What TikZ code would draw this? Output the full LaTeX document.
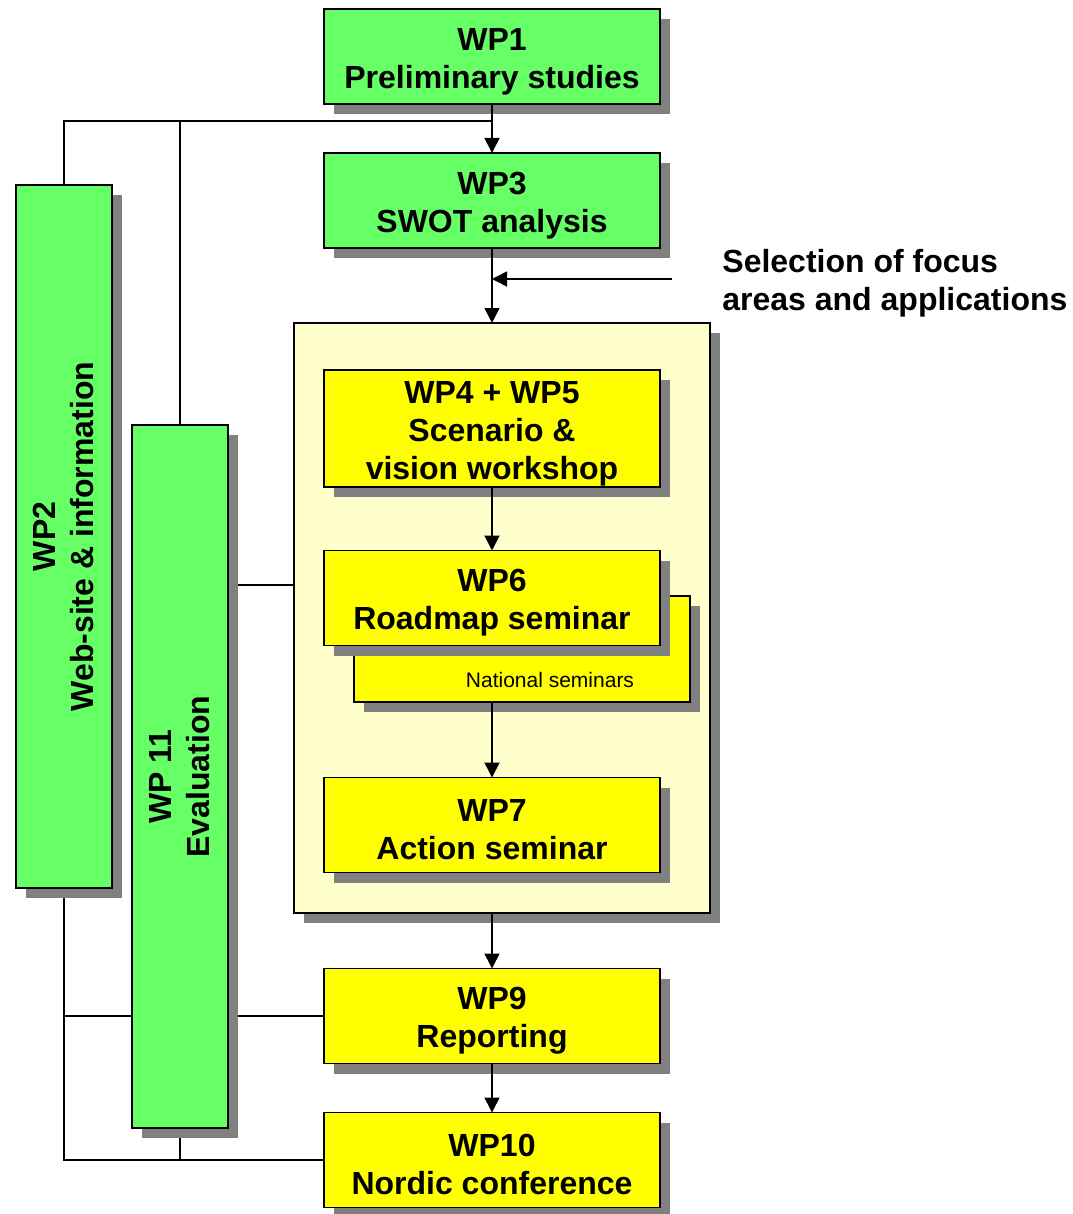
\documentclass[tikz,border=0pt]{standalone}
\usepackage{fontspec}
\setmainfont{Liberation Sans}
\usepackage{xcolor}
\usepackage{tikz}
\usetikzlibrary{arrows.meta,shadows,backgrounds,calc}

\definecolor{wpgreen}{HTML}{66FF66}
\definecolor{wpyellow}{HTML}{FFFF00}
\definecolor{wplight}{HTML}{FFFFCC}
\newcommand{\wptop}{\rule{0pt}{16pt}}

\begin{document}
\begin{tikzpicture}[
    x=0.5pt, y=-0.5pt,
    wp/.style={rectangle, draw, line width=0.8pt, inner sep=0pt, outer sep=0pt, align=center,
        font=\fontsize{16}{19}\selectfont\bfseries,
        drop shadow={shadow xshift=5pt, shadow yshift=-5pt, fill=black!50, opacity=1}},
    task/.style={wp, minimum width=168pt, minimum height=47.5pt},
    column/.style={wp, fill=wpgreen, minimum width=48pt, minimum height=351.5pt},
    arrow/.style={-{Triangle[length=7.5pt,width=7.5pt]}, line width=0.8pt},
    link/.style={line width=0.8pt},
]
    \useasboundingbox (0,0) rectangle (1072,1214);

    % work packages
    \node[task, fill=wpgreen] (wp1) at (492,56.5) {\wptop WP1\\Preliminary studies};
    \node[task, fill=wpgreen] (wp3) at (492,200.5) {\wptop WP3\\SWOT analysis};
    \node[wp, fill=wplight, minimum width=208pt, minimum height=295pt] (box) at (502,618) {};
    \node[task, fill=wpyellow, minimum height=58.5pt] (wp45) at (492,428.5) {\wptop WP4 + WP5\\Scenario \&\\vision workshop};
    \node[wp, fill=wpyellow, minimum width=168pt, minimum height=53pt] (nat) at (522,649) {};
    \node[font=\fontsize{10.5}{12}\selectfont] (natlabel) at (550,680) {National seminars};
    \node[task, fill=wpyellow] (wp6) at (492,598) {\wptop WP6\\Roadmap seminar};
    \node[task, fill=wpyellow] (wp7) at (492,825) {\wptop WP7\\Action seminar};
    \node[task, fill=wpyellow] (wp9) at (492,1016) {\wptop WP9\\Reporting};
    \node[task, fill=wpyellow] (wp10) at (492,1160) {\wptop WP10\\Nordic conference};
    \node[column] (wp2) at (64,536.5) {\rotatebox{90}{\begin{tabular}{@{}c@{}}\rule{0pt}{16.5pt}WP2\\Web-site \& information\end{tabular}}};
    \node[column] (wp11) at (180,776.5) {\rotatebox{90}{\begin{tabular}{@{}c@{}}\rule{0pt}{16.5pt}WP 11\\Evaluation\end{tabular}}};

    \node[anchor=west, align=left, inner sep=0pt, font=\fontsize{16}{19}\selectfont\bfseries] (sel) at (722,283) {Selection of focus\\areas and applications};
    \coordinate (selstart) at (672,279);
    \coordinate (topline) at (491,121);

    % flow
    \draw[arrow] (wp1) -- (wp3);
    \draw[arrow] (wp3) -- (wp3.south |- box.north);
    \draw[arrow] (selstart) -- (selstart -| wp3.south);
    \draw[arrow] (wp45) -- (wp6);
    \draw[arrow] (wp7.north |- nat.south) -- (wp7);
    \draw[arrow] (wp9.north |- box.south) -- (wp9);
    \draw[arrow] (wp9) -- (wp10);

    % side connections
    \begin{scope}[on background layer]
        \draw[link] (wp2.north) |- (topline);
        \draw[link] (wp11.north) -- (wp11.north |- topline);
        \draw[link] (wp11.east |- 0,585) -- (box.west |- 0,585);
        \draw[link] (wp2.south) |- (wp10.west);
        \draw[link] (wp2.south |- wp9.west) -- (wp11.west |- wp9.west);
        \draw[link] (wp11.east |- wp9.west) -- (wp9.west);
        \draw[link] (wp11.south) -- (wp11.south |- wp10.west);
    \end{scope}
\end{tikzpicture}
\end{document}
